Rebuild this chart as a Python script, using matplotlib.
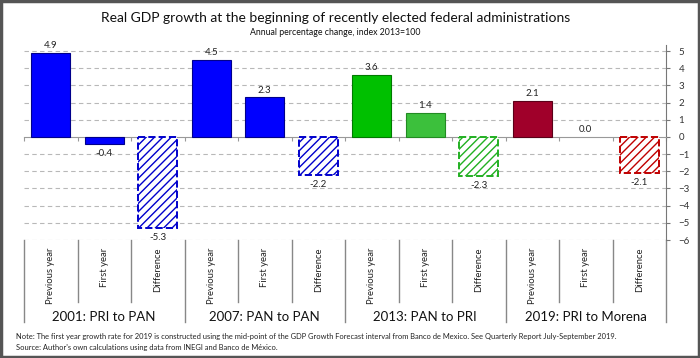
import matplotlib.pyplot as plt
from matplotlib.patches import Rectangle
import numpy as np

plt.rcParams['font.family'] = ['Lato', 'DejaVu Sans']

groups = ['2001: PRI to PAN', '2007: PAN to PAN', '2013: PAN to PRI', '2019: PRI to Morena']
subcats = ['Previous year', 'First year', 'Difference']
values = [4.9, -0.4, -5.3,
          4.5, 2.3, -2.2,
          3.6, 1.4, -2.3,
          2.1, 0.0, -2.1]
face = ['#0000FF', '#0000FF', 'white',
        '#0000FF', '#0000FF', 'white',
        '#00C000', '#3CC03C', 'white',
        '#A0002A', '#A0002A', 'white']
edge = ['#00008B', '#00008B', '#0000CC',
        '#00008B', '#00008B', '#0000CC',
        '#007A00', '#228B22', '#22B022',
        '#5A0018', '#5A0018', '#C00000']
yticks = list(range(-6, 6))

fig = plt.figure(figsize=(7, 3.58), dpi=100)
ax = fig.add_axes([24/700, 1-240/358, 642/700, 195/358])

x = np.arange(len(values))
for i, v in enumerate(values):
    hatched = (i % 3 == 2)
    lw = 1.4 if hatched else 0.8
    if v == 0:
        lw = 0
    ax.bar(x[i], v, width=0.73, color=face[i], edgecolor=edge[i], linewidth=lw,
           linestyle='--' if hatched else '-',
           hatch='////' if hatched else None, zorder=3)
    if v >= 0:
        ax.annotate(f'{v:.1f}', (x[i], v), xytext=(0, 2), textcoords='offset points',
                    ha='center', va='bottom', fontsize=7, color='#222222')
    else:
        ax.annotate(f'{v:.1f}', (x[i], v), xytext=(0, -3.5), textcoords='offset points',
                    ha='center', va='top', fontsize=7, color='#222222')

ax.set_xlim(-0.5, len(values) - 0.5)
ax.set_ylim(-6, 5.35)

for y in yticks:
    if y != 0:
        ax.axhline(y, color='#B8B8B8', lw=0.8, dashes=(4, 3), zorder=1)

ax.yaxis.tick_right()
ax.set_yticks(yticks)
ax.tick_params(axis='y', direction='out', length=3, color='#777777', labelsize=7,
               labelcolor='#333333', pad=6)

ax.spines['top'].set_visible(False)
ax.spines['left'].set_visible(False)
ax.spines['right'].set_color('#777777')
ax.spines['bottom'].set_position(('data', 0))
ax.spines['bottom'].set_color('#999999')
ax.set_xticks(np.arange(-0.5, len(values), 1))
ax.tick_params(axis='x', direction='out', length=3, color='#999999', labelbottom=False)

# multi-level category axis below the plot
trans = ax.get_xaxis_transform()
for b in range(len(values) + 1):
    lo = -0.4205 if b % 3 == 0 else -0.318
    ax.plot([b - 0.5, b - 0.5], [0, lo], transform=trans, color='#888888',
            lw=1.0, clip_on=False)
for i in range(len(values)):
    ax.text(x[i], -0.041, subcats[i % 3], transform=trans, rotation=90,
            ha='center', va='top', fontsize=6.8, color='#222222')
for g, name in enumerate(groups):
    ax.text(3 * g + 1, -0.393, name, transform=trans, ha='center', va='center',
            fontsize=9.5, color='#111111')

fig.text(0.479, 0.95, 'Real GDP growth at the beginning of recently elected federal administrations',
         ha='center', va='center', fontsize=10, color='#111111')
fig.text(0.479, 0.908, 'Annual percentage change, index 2013=100',
         ha='center', va='center', fontsize=6.3, color='#111111')
fig.text(0.023, 0.059, 'Note: The first year growth rate for 2019 is constructed using the mid-point of the '
         'GDP Growth Forecast interval from Banco de Mexico. See Quarterly Report July-September 2019.',
         ha='left', va='center', fontsize=5.45, color='#222222')
fig.text(0.023, 0.028, "Source: Author's own calculations using data from INEGI and Banco de México.",
         ha='left', va='center', fontsize=5.45, color='#222222')

fig.patches.append(Rectangle((0.002, 0.003), 0.996, 0.994, transform=fig.transFigure,
                             fill=False, edgecolor='#555555', lw=2.5))

fig.savefig('out.png', dpi=100)
